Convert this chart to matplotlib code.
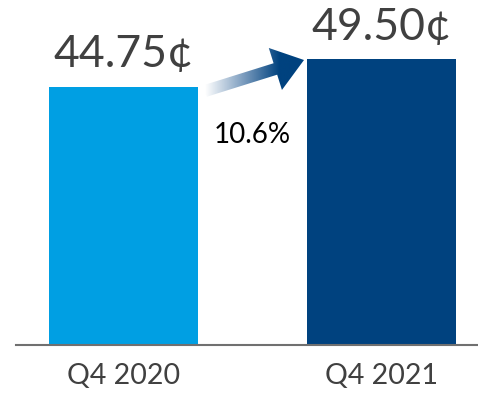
import matplotlib
matplotlib.use("Agg")
import matplotlib.pyplot as plt
import numpy as np
from matplotlib.patches import FancyArrow
from matplotlib.colors import LinearSegmentedColormap

# data
quarters = ["Q4 2020", "Q4 2021"]
dividends = [44.75, 49.50]
value_labels = ["44.75¢", "49.50¢"]
growth_label = "10.6%"
colors = ["#009FE3", "#00427F"]

plt.rcParams['font.family'] = ['Lato', 'DejaVu Sans']

fig = plt.figure(figsize=(4.78, 3.93), dpi=100)
ax = fig.add_axes([0, 48 / 393, 1, 345 / 393])

x = np.arange(len(quarters))
ax.bar(x, dividends, width=0.578, color=colors)
ax.set_xlim(-0.479, 1.374)
ax.set_ylim(0, 59.8)

for xi, v, lab in zip(x, dividends, value_labels):
    ax.text(xi, v + 3.4, lab, ha='center', va='baseline', fontsize=32, color='#404040')

ax.set_xticks(x)
ax.set_xticklabels(quarters, fontsize=20.5, color='#404040')
ax.tick_params(axis='x', length=0, pad=13)
ax.set_yticks([])
for s in ['top', 'right', 'left']:
    ax.spines[s].set_visible(False)
ax.spines['bottom'].set_color('#707070')
ax.spines['bottom'].set_linewidth(1.5)
ax.spines['bottom'].set_bounds(-0.417, 1.374)

# growth arrow overlay (pixel coordinates)
ov = fig.add_axes([0, 0, 1, 1])
ov.set_xlim(0, 478)
ov.set_ylim(393, 0)
ov.axis('off')

x0, y0, x1, y1 = 205, 91, 304, 60
arrow = FancyArrow(x0, y0, x1 - x0, y1 - y0, width=12, head_width=44,
                   head_length=30, length_includes_head=True,
                   facecolor='none', edgecolor='none')
ov.add_patch(arrow)
cmap = LinearSegmentedColormap.from_list('fade', ['#ffffff', '#7f9fc0', '#00427F'])
grad = np.linspace(0, 1, 256).reshape(1, -1)
grad = np.clip(grad * 1.35, 0, 1)
im = ov.imshow(grad, extent=[x0, x1 + 2, 100, 30], cmap=cmap, aspect='auto')
im.set_clip_path(arrow)

ov.text(252, 143, growth_label, ha='center', va='baseline', fontsize=20, color='black')

fig.savefig("out.png", dpi=100)
